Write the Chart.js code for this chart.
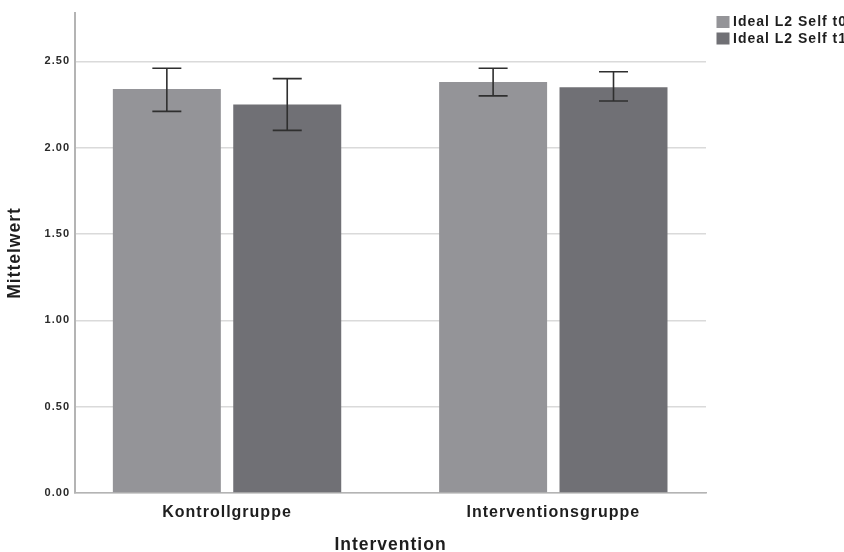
<!DOCTYPE html>
<html>
<head>
<meta charset="utf-8">
<script src="https://cdn.jsdelivr.net/npm/chart.js@4/dist/chart.umd.min.js"></script>
<style>
  html, body { margin: 0; padding: 0; background: #ffffff; }
  #wrap { width: 844px; height: 552px; }
</style>
</head>
<body>
<div id="wrap"><canvas id="c" width="844" height="552"></canvas></div>
<script>
// Group means with 95% confidence intervals
const categories = ['Kontrollgruppe', 'Interventionsgruppe'];
const seriesNames = ['Ideal L2 Self t0', 'Ideal L2 Self t1'];
const meanT0 = [2.34, 2.38];
const meanT1 = [2.25, 2.35];
const lowT0 = [2.21, 2.30];
const highT0 = [2.46, 2.46];
const lowT1 = [2.10, 2.27];
const highT1 = [2.40, 2.44];
const yTicks = [0, 0.5, 1, 1.5, 2, 2.5];

const FONT = '"Liberation Sans", Arial, sans-serif';
const colors = ['#949498', '#707075'];

const toPoints = (vals) => vals.map((v, i) => ({ x: i + 1, y: v }));

// Spaced lettering for all chart text
const spacing = {
  id: 'spacing',
  beforeLayout(chart) { chart.ctx.letterSpacing = '1px'; },
  beforeDraw(chart) { chart.ctx.letterSpacing = '1px'; }
};

// Whiskers for the confidence intervals
const errorBars = {
  id: 'errorBars',
  afterDatasetsDraw(chart) {
    const ctx = chart.ctx;
    const y = chart.scales.y;
    ctx.save();
    ctx.strokeStyle = '#2f2f2f';
    ctx.lineWidth = 1.6;
    chart.data.datasets.forEach((ds, di) => {
      const meta = chart.getDatasetMeta(di);
      meta.data.forEach((bar, i) => {
        const x = bar.x;
        const yHi = y.getPixelForValue(ds.errHigh[i]);
        const yLo = y.getPixelForValue(ds.errLow[i]);
        const half = 14.5;
        ctx.beginPath();
        ctx.moveTo(x, yHi); ctx.lineTo(x, yLo);
        ctx.moveTo(x - half, yHi); ctx.lineTo(x + half, yHi);
        ctx.moveTo(x - half, yLo); ctx.lineTo(x + half, yLo);
        ctx.stroke();
      });
    });
    ctx.restore();
  }
};

// Legend drawn in the right margin, top aligned
const sideLegend = {
  id: 'sideLegend',
  afterDraw(chart) {
    const ctx = chart.ctx;
    const left = chart.chartArea.right + 10.5;
    ctx.save();
    ctx.letterSpacing = '1px';
    ctx.font = 'bold 14px ' + FONT;
    ctx.textBaseline = 'middle';
    ctx.textAlign = 'left';
    chart.data.datasets.forEach((ds, i) => {
      const top = 16 + i * 16.5;
      ctx.fillStyle = ds.backgroundColor;
      ctx.fillRect(left, top, 13, 12);
      ctx.fillStyle = '#1e1e1e';
      ctx.fillText(ds.label, left + 16.5, top + 6.5);
    });
    ctx.restore();
  }
};

new Chart(document.getElementById('c'), {
  type: 'bar',
  data: {
    datasets: [
      { label: seriesNames[0], data: toPoints(meanT0), backgroundColor: colors[0],
        errLow: lowT0, errHigh: highT0 },
      { label: seriesNames[1], data: toPoints(meanT1), backgroundColor: colors[1],
        errLow: lowT1, errHigh: highT1 }
    ]
  },
  options: {
    responsive: false,
    animation: false,
    devicePixelRatio: 1,
    categoryPercentage: 0.738,
    barPercentage: 0.897,
    layout: { padding: { top: 13, right: 138, left: 0, bottom: 0 } },
    plugins: {
      legend: { display: false },
      tooltip: { enabled: false }
    },
    scales: {
      x: {
        type: 'linear',
        offset: false,
        min: 0.534,
        max: 2.468,
        afterBuildTicks(scale) {
          scale.ticks = categories.map((c, i) => ({ value: i + 1 }));
        },
        afterFit(scale) { scale.height = 59; },
        ticks: {
          autoSkip: false,
          maxRotation: 0,
          padding: 10,
          color: '#1e1e1e',
          font: { family: FONT, size: 16, weight: 'bold' },
          callback: (v, i) => categories[i]
        },
        grid: { display: false, drawTicks: false, offset: false },
        border: { display: true, color: '#b4b4b4', width: 1.5 },
        title: {
          display: true,
          text: 'Intervention',
          color: '#1e1e1e',
          padding: { top: 0, bottom: 0 },
          font: { family: FONT, size: 17.5, weight: 'bold', lineHeight: 0.75 }
        }
      },
      y: {
        min: 0,
        max: 2.78,
        afterBuildTicks(scale) {
          scale.ticks = yTicks.map(v => ({ value: v }));
        },
        afterFit(scale) { scale.width = 75; },
        ticks: {
          padding: 5,
          color: '#2a2a2a',
          font: { family: FONT, size: 11, weight: 'bold' },
          callback: v => Number(v).toFixed(2)
        },
        grid: { color: '#dadada', lineWidth: 1.5, drawTicks: false },
        border: { display: true, color: '#b4b4b4', width: 2 },
        title: {
          display: true,
          text: 'Mittelwert',
          color: '#1e1e1e',
          padding: { top: 5, bottom: 0 },
          font: { family: FONT, size: 17.5, weight: 'bold' }
        }
      }
    }
  },
  plugins: [spacing, errorBars, sideLegend]
});
</script>
</body>
</html>
